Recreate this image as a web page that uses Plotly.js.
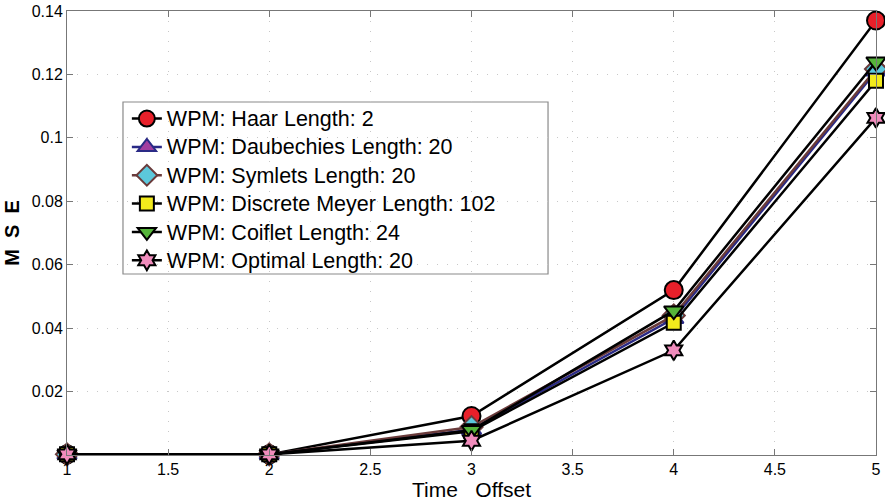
<!DOCTYPE html>
<html><head><meta charset="utf-8">
<script src="https://cdn.plot.ly/plotly-3.0.1.min.js"></script>
<style>html,body{margin:0;padding:0;background:#fff}#c{width:885px;height:501px}</style>
</head><body><div id="c"></div>
<script>
const xOffsets = [1, 2, 3, 4, 5];
const names = ["WPM: Haar Length: 2","WPM: Daubechies Length: 20","WPM: Symlets Length: 20","WPM: Discrete Meyer Length: 102","WPM: Coiflet Length: 24","WPM: Optimal Length: 20"];
const haar = [0.0002, 0.0002, 0.0123, 0.052, 0.137];
const daubechies = [0.0002, 0.0002, 0.0080, 0.0430, 0.1210];
const symlets = [0.0002, 0.0002, 0.0088, 0.0440, 0.1217];
const meyer = [0.0002, 0.0002, 0.0075, 0.0417, 0.1180];
const coiflet = [0.0002, 0.0002, 0.0078, 0.0455, 0.1240];
const optimal = [0.0002, 0.0002, 0.0045, 0.0330, 0.1063];
const yTicks = [0.02, 0.04, 0.06, 0.08, 0.1, 0.12, 0.14];
const yTickText = ["0.02","0.04","0.06","0.08","0.1","0.12","0.14"];
const xTicks = [1, 1.5, 2, 2.5, 3, 3.5, 4, 4.5, 5];
const xTickText = ["1","1.5","2","2.5","3","3.5","4","4.5","5"];

const styles = [
  {line:'#000', sym:'circle', fill:'#e8202a', mline:'#000', size:18},
  {line:'#2a2a86', sym:'triangle-up', fill:'#a23ea0', mline:'#2a2a86', size:17},
  {line:'#6a3b3b', sym:'diamond', fill:'#5cc8dc', mline:'#6a3b3b', size:17},
  {line:'#000', sym:'square', fill:'#f2ea1c', mline:'#000', size:14},
  {line:'#000', sym:'triangle-down', fill:'#55b43a', mline:'#000', size:17},
  {line:'#000', sym:'hexagram', fill:'#f08cbc', mline:'#000', size:15}
];
const series = [haar, daubechies, symlets, meyer, coiflet, optimal];
const traces = series.map((ys, i) => ({
  x: xOffsets, y: ys, type: 'scatter', mode: 'lines+markers',
  name: '<span style="font-size:21.5px">' + names[i] + '</span>',
  line: {color: styles[i].line, width: 2.5},
  marker: {symbol: styles[i].sym, color: styles[i].fill, size: styles[i].size,
           line: {color: styles[i].mline, width: 2}},
  cliponaxis: false
}));

const layout = {
  width: 885, height: 501,
  margin: {l: 67, r: 9, t: 11, b: 46},
  paper_bgcolor: '#fff', plot_bgcolor: '#fff',
  font: {family: 'Liberation Sans, Arial, sans-serif', color: '#000', size: 15},
  showlegend: true,
  legend: {x: 0.074, y: 0.801, xanchor: 'left', yanchor: 'top',
           bgcolor: 'rgba(0,0,0,0)', borderwidth: 0,
           font: {size: 19.5, family: 'Liberation Sans, Arial, sans-serif'},
           tracegroupgap: 0, itemwidth: 30},
  shapes: [{type: 'rect', xref: 'paper', yref: 'paper', layer: 'below',
            x0: 0.0692, x1: 0.5946, y0: 0.4077, y1: 0.795,
            fillcolor: '#fff', line: {color: '#8a8a8a', width: 1.2}}],
  xaxis: {range: [1, 5], tickvals: xTicks, ticktext: xTickText,
          ticks: 'inside', ticklen: 6, tickcolor: '#777',
          showline: true, linecolor: '#777', linewidth: 1, mirror: 'ticks',
          showgrid: true, gridcolor: '#c8c8c8', griddash: '1px,9px', gridwidth: 1,
          zeroline: false, tickfont: {size: 16},
          title: {text: 'Time\u00a0\u00a0\u00a0Offset', font: {size: 21}, standoff: 3}},
  yaxis: {range: [0, 0.14], tickvals: yTicks, ticktext: yTickText,
          ticks: 'inside', ticklen: 6, tickcolor: '#777',
          showline: true, linecolor: '#777', linewidth: 1, mirror: 'ticks',
          showgrid: true, gridcolor: '#c8c8c8', griddash: '1px,9px', gridwidth: 1,
          zeroline: false, tickfont: {size: 16},
          title: {text: '<b>M\u00a0 S\u00a0 E</b>', font: {size: 20}, standoff: 6}}
};
Plotly.newPlot('c', traces, layout, {displayModeBar: false, staticPlot: true});
</script></body></html>
